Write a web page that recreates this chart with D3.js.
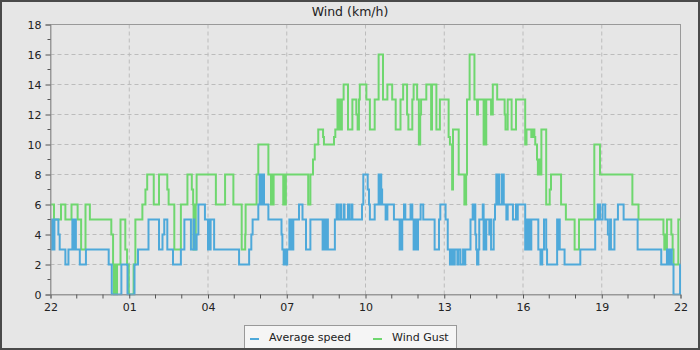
<!DOCTYPE html>
<html><head><meta charset="utf-8">
<script src="https://cdn.jsdelivr.net/npm/d3@7"></script>
<style>
html,body{margin:0;padding:0;background:#e6e6e6;}
svg{display:block;font-family:"DejaVu Sans",sans-serif;}
</style></head>
<body><svg id="c" width="700" height="350"></svg>
<script>
// Time in minutes after 22:00, value (km/h) from that minute on (step data)
const avgTimes = [0,3,5,6,8,9,18,21,34,41,50,52,53,55,56,58,67,81,133,140,162,176,192,200,224,248,256,260,267,280,298,306,321,327,329,334,338,353,360,362,364,366,374,431,454,459,462,475,478,482,484,488,498,528,530,533,535,537,541,546,548,550,552,555,568,576,584,594,622,624,626,628,630,632,634,650,654,657,662,664,670,672,680,683,688,690,712,715,725,728,730,741,750,752,754,756,758,766,770,785,798,800,802,804,808,811,823,827,830,833,836,840,846,852,878,888,891,903,908,913,917,920,924,930,932,937,943,946,948,960,965,967,969,971,973,975,978,980,988,990,992,994,996,1003,1005,1007,1013,1016,1019,1021,1023,1026,1032,1036,1042,1045,1057,1064,1067,1068,1085,1088,1090,1093,1096,1099,1115,1120,1124,1128,1133,1135,1158,1160,1162,1164,1175,1211,1245,1251,1253,1255,1256,1262,1268,1274,1277,1279,1281,1289,1297,1310,1342,1396,1409,1413,1416,1420,1424,1439];
const avgValues = [3,5,3,5,3,5,4,3,2,3,5,3,5,3,5,3,2,3,2,0,2,0,2,3,5,3,4,5,3,2,3,5,3,5,3,4,6,5,3,5,3,5,3,2,3,4,5,6,8,6,8,6,5,4,3,2,3,2,3,5,3,5,3,5,6,5,3,5,3,5,3,5,3,5,3,5,6,5,6,5,6,5,6,5,6,5,6,8,7,6,5,6,8,6,8,7,6,5,6,5,3,5,3,5,6,5,6,5,3,5,3,5,6,5,3,5,6,5,3,2,3,2,3,2,3,2,3,2,3,5,6,5,6,4,3,2,3,5,6,3,5,3,5,4,5,3,5,6,8,6,8,6,8,6,5,6,5,6,5,6,3,5,3,5,3,5,3,2,3,5,3,2,5,3,5,3,2,3,5,6,5,6,5,6,5,4,3,5,3,5,6,5,3,2,3,2,3,2,0,2];
const gustTimes = [0,8,24,34,48,62,70,80,90,139,143,145,147,148,150,151,152,160,171,175,179,190,194,210,217,221,236,248,267,270,283,298,313,323,326,327,329,330,332,334,378,399,418,437,445,446,471,475,498,504,506,508,510,532,534,536,538,589,594,600,604,612,623,625,648,651,656,660,662,664,666,670,680,690,699,702,705,707,722,730,741,750,760,770,781,789,800,806,815,818,827,830,838,842,845,847,859,870,872,882,890,910,913,918,920,933,946,947,948,950,952,958,969,975,977,990,992,994,996,1007,1011,1021,1038,1040,1045,1054,1064,1085,1088,1099,1102,1106,1108,1112,1114,1116,1118,1122,1133,1141,1144,1167,1178,1198,1208,1243,1256,1330,1344,1401,1403,1405,1407,1409,1419,1422,1424,1435];
const gustValues = [6,5,6,5,6,5,3,6,5,4,2,0,2,0,2,0,2,5,3,2,0,2,5,6,7,8,6,8,7,6,3,6,8,7,6,3,6,3,6,8,6,8,6,3,4,6,8,10,8,6,8,6,8,6,8,6,8,6,8,9,10,11,10.5,10,10.5,11,13,11,13,11,13,14,11,13,12,11,13,14,13,11,13,16,13,14,13,11,13,14,12,11,13,14,13,10,12,13,14,11,14,11,13,10.5,10,7,11,8,6,8,6,8,13,16,13,12,13,10,13,10,13,12,14,13,12,11,13,11,13,10,11,10.5,11,10.5,10,9,8,9,8,11,6,7,8,6,5,3,5,10,8,6,5,4,3,4,3,5,4,3,2,5];
const yTicks = [0,2,4,6,8,10,12,14,16,18];
const xTickMinutes = [0,180,360,540,720,900,1080,1260,1440];
const xTickLabels = ["22","01","04","07","10","13","16","19","22"];
const seriesNames = ["Average speed","Wind Gust"];
const seriesColors = ["#4ea9da","#6fd76f"];

const svg = d3.select("#c");
const W = 700, H = 350;
const L = 50.5, R = 680.5, T = 24.5, B = 294.5;
const x = d3.scaleLinear().domain([0,1440]).range([L,R]);
const y = d3.scaleLinear().domain([0,18]).range([B,T]);

svg.append("rect").attr("x",0).attr("y",0).attr("width",W).attr("height",H).attr("fill","#e6e6e6");

// grid
const g = svg.append("g");
g.selectAll(".gy").data(yTicks.filter(v=>v>0&&v<18)).join("line")
  .attr("x1",L).attr("x2",R).attr("y1",d=>y(d)).attr("y2",d=>y(d))
  .attr("stroke","#bcbcbc").attr("stroke-dasharray","4,3");
g.selectAll(".gx").data(xTickMinutes.filter(v=>v>0&&v<1440)).join("line")
  .attr("y1",T).attr("y2",B).attr("x1",d=>x(d)).attr("x2",d=>x(d))
  .attr("stroke","#bcbcbc").attr("stroke-dasharray","4,3");

// plot border
svg.append("rect").attr("x",L).attr("y",T).attr("width",R-L).attr("height",B-T)
  .attr("fill","none").attr("stroke","#999");

// series
const line = d3.line().curve(d3.curveStepAfter).x(d=>x(d[0])).y(d=>y(d[1]));
function pts(ts, vs){ const p = ts.map((t,i)=>[t,vs[i]]); p.push([1440, vs[vs.length-1]]); return p; }
const clip = svg.append("clipPath").attr("id","cp").append("rect")
  .attr("x",L-1).attr("y",T-1).attr("width",R-L+2).attr("height",B-T+2);
svg.append("path").datum(pts(gustTimes,gustValues)).attr("d",line)
  .attr("fill","none").attr("stroke",seriesColors[1]).attr("stroke-width",2).attr("clip-path","url(#cp)");
svg.append("path").datum(pts(avgTimes,avgValues)).attr("d",line)
  .attr("fill","none").attr("stroke",seriesColors[0]).attr("stroke-width",2).attr("clip-path","url(#cp)");

// y axis
const ya = svg.append("g").attr("transform",`translate(${L},0)`)
  .call(d3.axisLeft(y).tickValues(yTicks).tickSize(5).tickPadding(4));
ya.select(".domain").attr("stroke","#999");
ya.selectAll(".tick line").attr("stroke","#555");
ya.selectAll("text").attr("font-size",11).attr("fill","#222").attr("font-family","DejaVu Sans");
const yMinor = d3.range(1,18,2);
svg.append("g").selectAll("line").data(yMinor).join("line")
  .attr("x1",L-3).attr("x2",L).attr("y1",d=>y(d)).attr("y2",d=>y(d)).attr("stroke","#555");

// x axis
const xa = svg.append("g").attr("transform",`translate(0,${B})`)
  .call(d3.axisBottom(x).tickValues(xTickMinutes).tickFormat((d,i)=>xTickLabels[i]).tickSize(4).tickPadding(5));
xa.select(".domain").attr("stroke","#999");
xa.selectAll(".tick line").attr("stroke","#555");
xa.selectAll("text").attr("font-size",11).attr("fill","#222").attr("font-family","DejaVu Sans");
const xMinor = d3.range(60,1440,60).filter(m=>m%180!==0);
svg.append("g").selectAll("line").data(xMinor).join("line")
  .attr("x1",d=>x(d)).attr("x2",d=>x(d)).attr("y1",B).attr("y2",B+4).attr("stroke","#555");

// title
svg.append("text").attr("x",350).attr("y",16).attr("text-anchor","middle")
  .attr("font-size",12.5).attr("fill","#222").text("Wind (km/h)");

// legend
const lg = svg.append("g");
lg.append("rect").attr("x",244.5).attr("y",325.5).attr("width",212).attr("height",23)
  .attr("fill","#f5f5f5").attr("stroke","#999");
const lx = [250, 373];
seriesNames.forEach((n,i)=>{
  lg.append("line").attr("x1",lx[i]).attr("x2",lx[i]+9).attr("y1",339).attr("y2",339)
    .attr("stroke",seriesColors[i]).attr("stroke-width",2);
  lg.append("text").attr("x",lx[i]+19).attr("y",341).attr("font-size",11).attr("fill","#222").text(n);
});

// outer frame
svg.append("rect").attr("x",1).attr("y",1).attr("width",W-2).attr("height",H-2)
  .attr("fill","none").attr("stroke","#4a4a4a").attr("stroke-width",2);
</script></body></html>
